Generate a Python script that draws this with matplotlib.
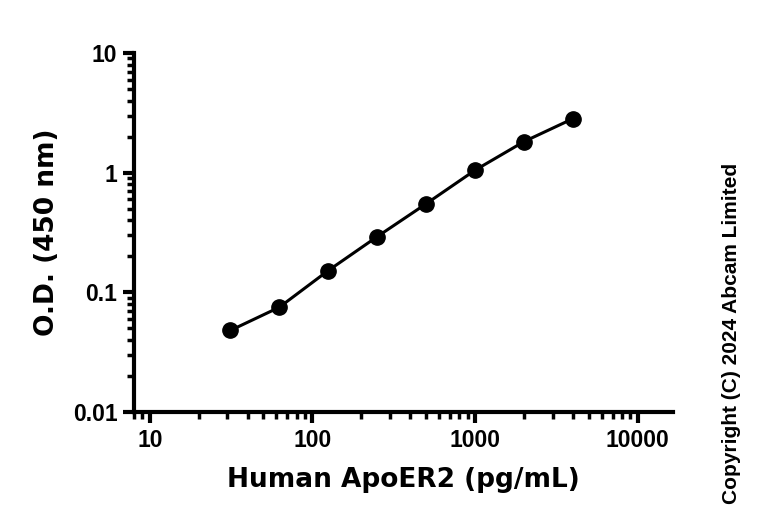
import numpy as np
import matplotlib
matplotlib.use("Agg")
from matplotlib import pyplot as plt
from matplotlib.ticker import LogLocator, NullFormatter

# standard curve: concentration (pg/mL) vs optical density
conc = [31.25, 62.5, 125, 250, 500, 1000, 2000, 4000]
od = [0.048, 0.075, 0.152, 0.292, 0.55, 1.05, 1.82, 2.83]

x_ticks = [10, 100, 1000, 10000]
x_tick_labels = ["10", "100", "1000", "10000"]
y_ticks = [0.01, 0.1, 1, 10]
y_tick_labels = ["0.01", "0.1", "1", "10"]

plt.rcParams["font.family"] = ["Liberation Sans", "DejaVu Sans"]
plt.rcParams["font.weight"] = "bold"

label_font = {"family": "DejaVu Sans", "weight": "bold", "size": 19}

fig = plt.figure(figsize=(7.68, 5.18), dpi=100)
ax = fig.add_axes([0.1745, 0.2046, 0.7015, 0.6931])

ax.plot(conc, od, color="black", lw=2.2, marker="o", ms=11, zorder=3)

ax.set_xscale("log")
ax.set_yscale("log")
ax.set_xlim(8, 16400)
ax.set_ylim(0.01, 10)

ax.set_xticks(x_ticks, x_tick_labels, fontsize=16.5, fontweight="bold")
ax.set_yticks(y_ticks, y_tick_labels, fontsize=16.5, fontweight="bold")
ax.xaxis.set_minor_locator(LogLocator(base=10, subs=np.arange(2, 10)))
ax.yaxis.set_minor_locator(LogLocator(base=10, subs=np.arange(2, 10)))
ax.xaxis.set_minor_formatter(NullFormatter())
ax.yaxis.set_minor_formatter(NullFormatter())

for side in ("top", "right"):
    ax.spines[side].set_visible(False)
for side in ("left", "bottom"):
    ax.spines[side].set_linewidth(3)

ax.tick_params(which="major", direction="out", length=8, width=3, pad=4)
ax.tick_params(which="minor", direction="out", length=5, width=2.5)

ax.set_xlabel("Human ApoER2 (pg/mL)", fontdict=label_font, labelpad=11)
ax.set_ylabel("O.D. (450 nm)", fontdict=label_font, labelpad=9)

fig.text(0.952, 0.357, "Copyright (C) 2024 Abcam Limited", rotation=90,
         ha="center", va="center", weight="bold", fontsize=15)

fig.savefig("out.png", dpi=100)
